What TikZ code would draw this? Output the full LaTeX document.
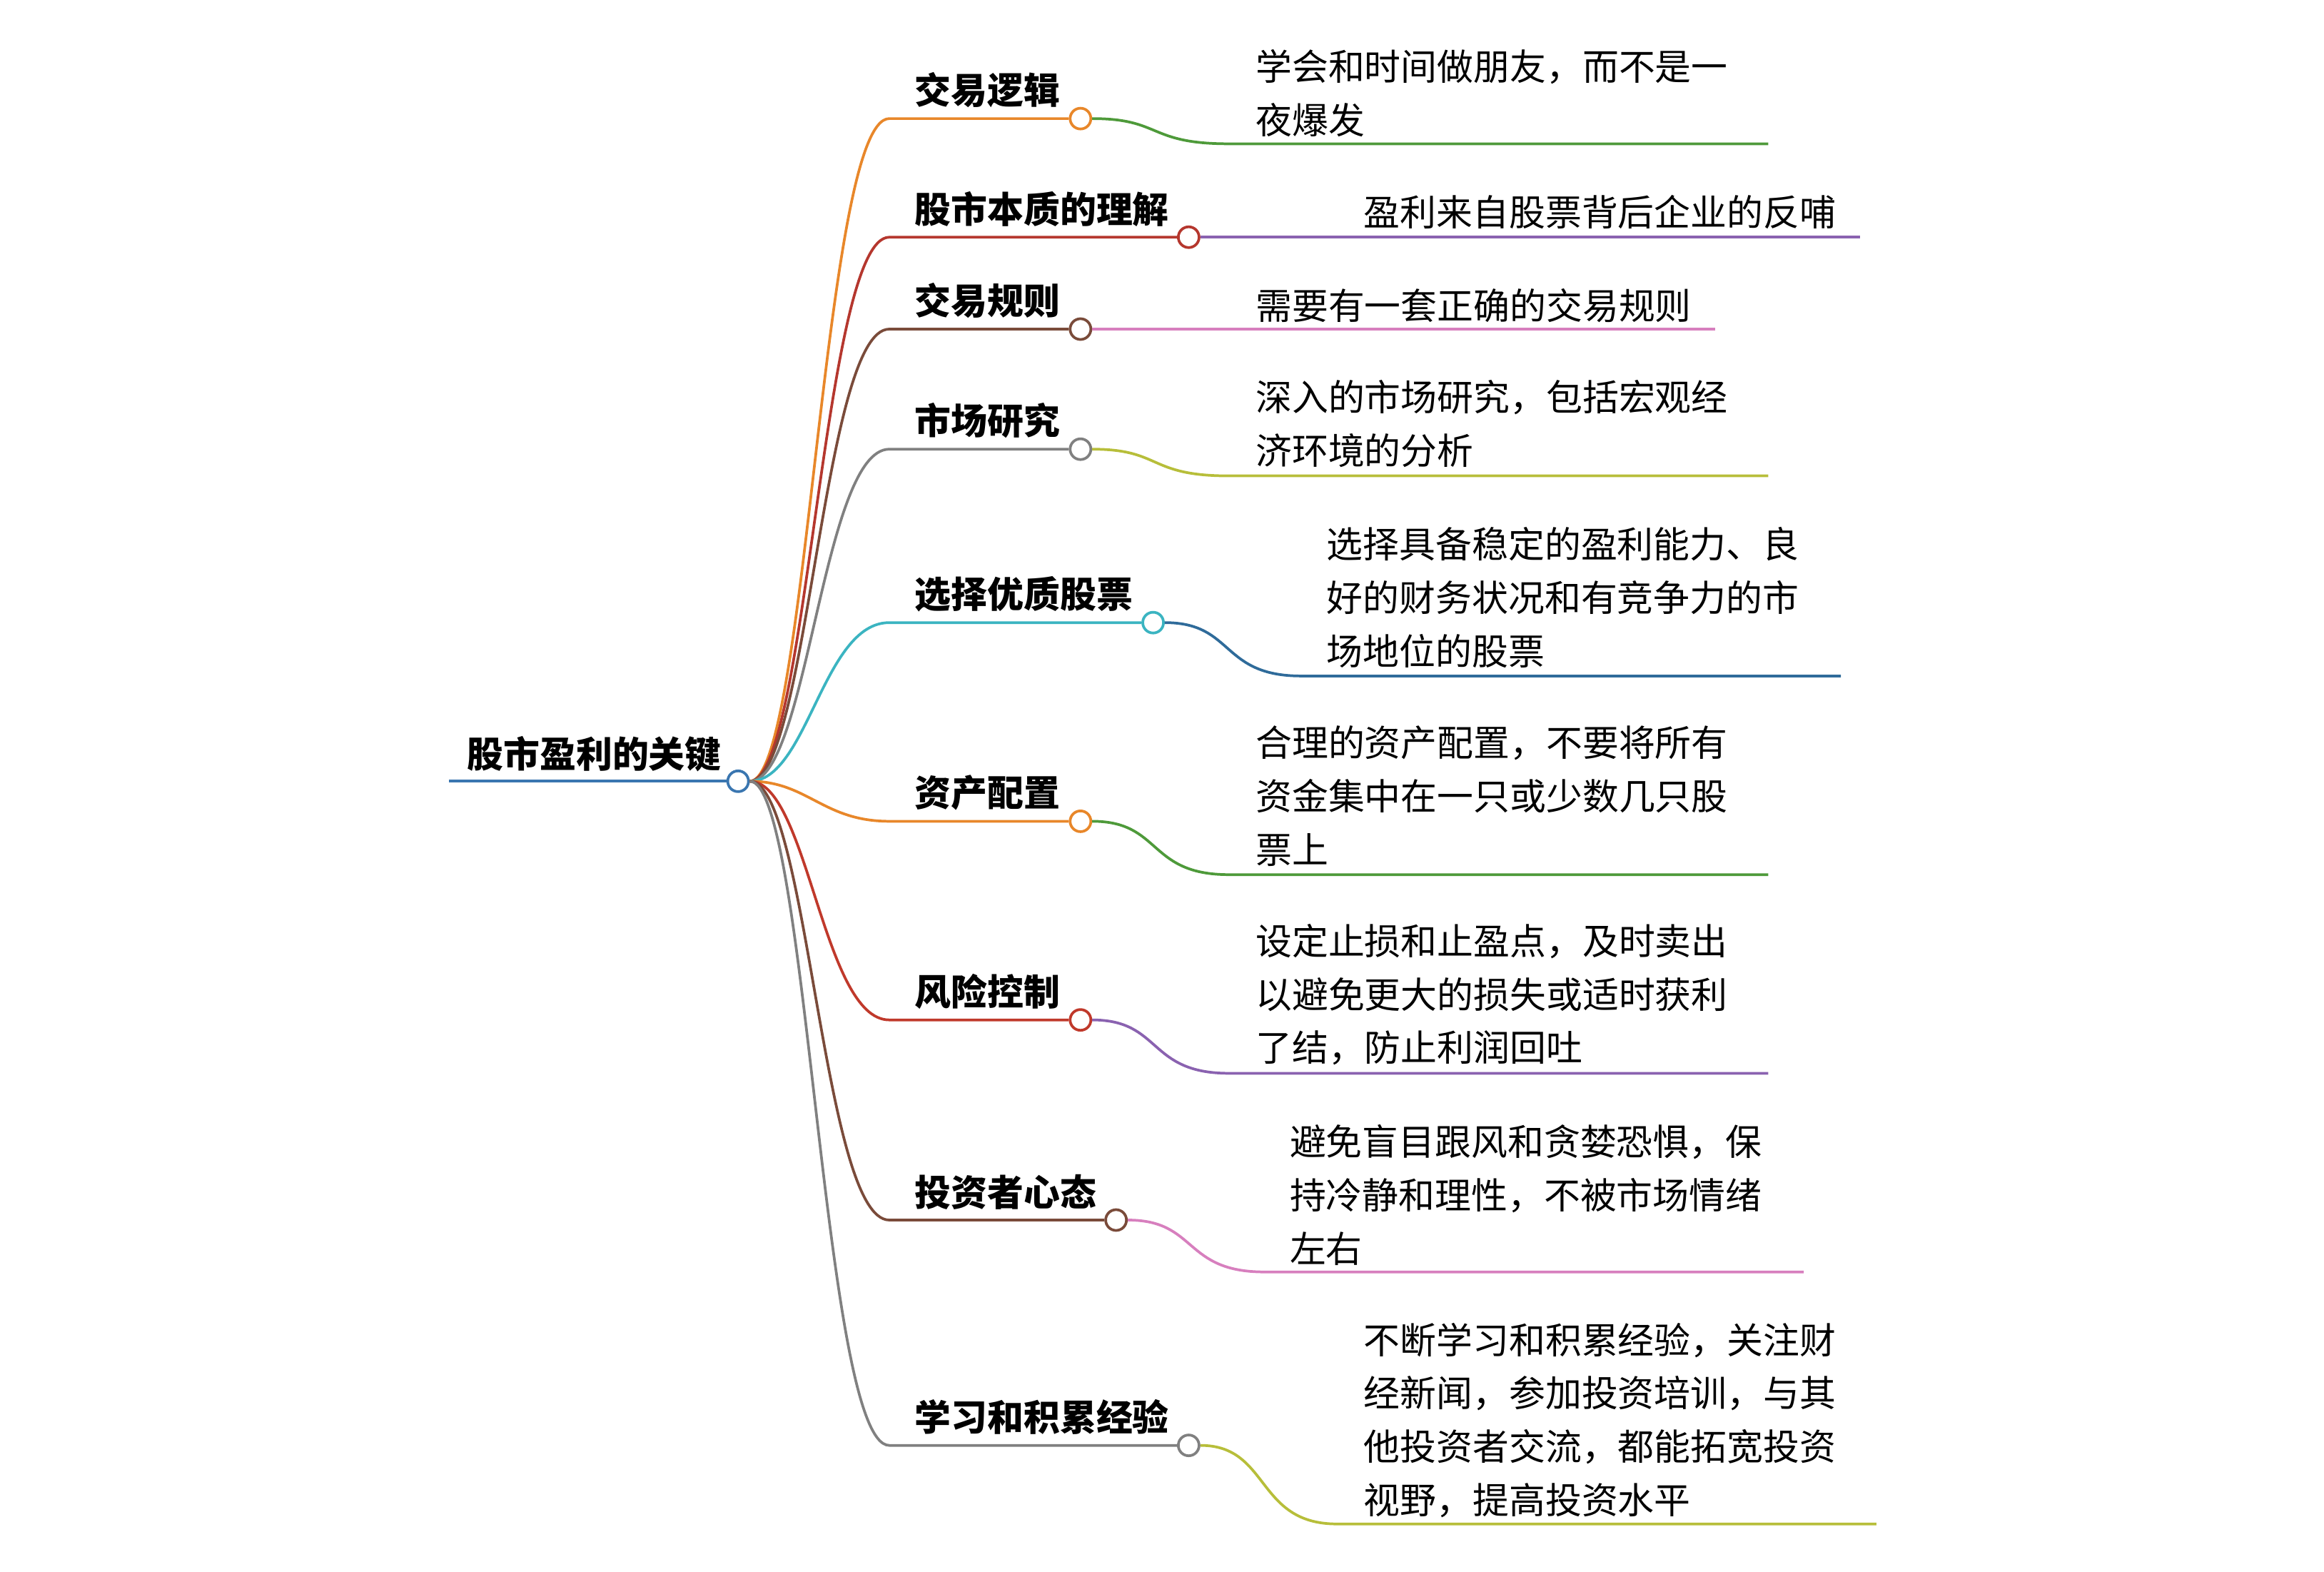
\documentclass[tikz,border=0pt]{standalone}
\usepackage{fontspec}
\setmainfont{Noto Sans CJK SC}
\begin{document}
\begin{tikzpicture}[x=1pt,y=-1pt,
  dot/.style={circle,draw=#1,fill=white,line width=1.8pt,inner sep=0pt,minimum size=14pt},
  br/.style={line width=1.8pt,draw=#1},
  lbl/.style={anchor=south west,inner sep=0pt,font=\fontsize{24.5}{28}\selectfont\bfseries},
  leaf/.style={anchor=west,inner sep=0pt,align=left,font=\fontsize{24.5}{36}\selectfont}]
\useasboundingbox (0,0) rectangle (1568,1060);
\definecolor{cor}{HTML}{E8872A}\definecolor{cdr}{HTML}{B5372E}\definecolor{cbr}{HTML}{7A4B3A}
\definecolor{cgr}{HTML}{808080}\definecolor{ccy}{HTML}{3BB4C1}\definecolor{cred}{HTML}{C0392B}
\definecolor{cgn}{HTML}{4E9A3A}\definecolor{cpu}{HTML}{8A62B0}\definecolor{cpk}{HTML}{D77FBE}
\definecolor{col}{HTML}{B7BE3A}\definecolor{cbl}{HTML}{2F6B9A}\definecolor{croot}{HTML}{3A76B0}
\draw[br=croot] (303,527) -- (491,527);
\node[lbl] (root) at (315,521) {股市盈利的关键};
\node[dot=croot] (r) at (498,527) {};
\foreach \n/\y/\cx/\c/\t/\ly/\lx/\lc/\tx/\ty/\txt in {
 a/80/729/cor/交易逻辑/97/1193/cgn/847/63/{学会和时间做朋友，而不是一\\夜爆发},
 b/160/802/cdr/股市本质的理解/160/1255/cpu/920/143/{盈利来自股票背后企业的反哺},
 c/222/729/cbr/交易规则/222/1157/cpk/847/206/{需要有一套正确的交易规则},
 d/303/729/cgr/市场研究/321/1193/col/847/286/{深入的市场研究，包括宏观经\\济环境的分析},
 e/420/778/ccy/选择优质股票/456/1242/cbl/895/403/{选择具备稳定的盈利能力、良\\好的财务状况和有竞争力的市\\场地位的股票},
 f/554/729/cor/资产配置/590/1193/cgn/847/537/{合理的资产配置，不要将所有\\资金集中在一只或少数几只股\\票上},
 g/688/729/cred/风险控制/724/1193/cpu/847/671/{设定止损和止盈点，及时卖出\\以避免更大的损失或适时获利\\了结，防止利润回吐},
 h/823/753/cbr/投资者心态/858/1217/cpk/870/806/{避免盲目跟风和贪婪恐惧，保\\持冷静和理性，不被市场情绪\\左右},
 i/975/802/cgr/学习和积累经验/1028/1266/col/920/958/{不断学习和积累经验，关注财\\经新闻，参加投资培训，与其\\他投资者交流，都能拓宽投资\\视野，提高投资水平}}{
 \coordinate (s\n) at (600,\y);
 \node[dot=\c] (c\n) at (\cx,\y) {};
 \node[lbl] (l\n) at (617,\y-7) {\t};
 \coordinate (m\n) at (\cx+100,\ly);
 \coordinate (e\n) at (\lx,\ly);
 \node[leaf] (t\n) at (\tx,\ty) {\txt};
 \draw[br=\c] (r.east) .. controls (545,527) and (555,\y) .. (s\n) -- (c\n.west);
 \draw[br=\lc] (c\n.east) .. controls (\cx+55,\y) and (\cx+45,\ly) .. (m\n) -- (e\n);
}
\end{tikzpicture}
\end{document}
